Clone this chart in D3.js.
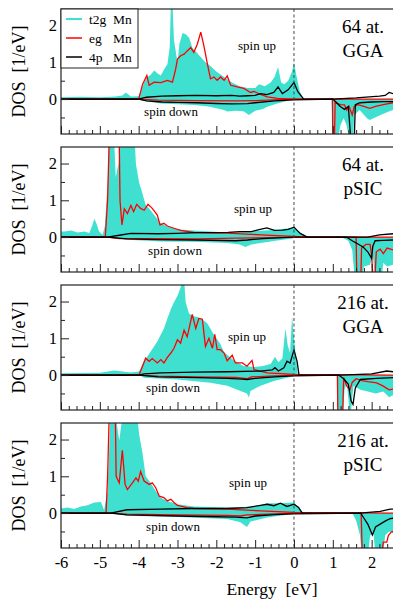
<!DOCTYPE html>
<html>
<head>
<meta charset="utf-8">
<script src="https://cdn.jsdelivr.net/npm/d3@7"></script>
<style>
body { margin: 0; background: #fff; }
svg text { font-family: "Liberation Serif", "Times New Roman", Times, serif; fill: #000; }
</style>
</head>
<body>
<div id="chart"></div>
<script>
// ---- data: [energy eV, DOS 1/eV], spin down stored negative ----
// 64 at. GGA
const p1T2gUp = [[-6,0.05],[-5.5,0.06],[-5.0,0.05],[-4.6,0.07],[-4.42,0.1],[-4.33,0.18],[-4.2,0.07],[-4.0,0.08],[-3.9,0.35],[-3.79,0.6],[-3.7,0.65],[-3.6,0.78],[-3.52,0.7],[-3.43,0.64],[-3.35,0.8],[-3.26,0.95],[-3.2,1.4],[-3.17,2.6],[-3.13,2.6],[-3.09,1.6],[-3.0,1.0],[-2.95,1.5],[-2.87,1.8],[-2.79,1.76],[-2.7,1.67],[-2.62,1.4],[-2.53,1.3],[-2.45,1.2],[-2.36,1.1],[-2.28,1.0],[-2.15,0.9],[-2.0,0.75],[-1.8,0.6],[-1.6,0.45],[-1.4,0.35],[-1.2,0.3],[-1.0,0.3],[-0.9,0.4],[-0.75,0.35],[-0.6,0.45],[-0.5,0.6],[-0.41,0.87],[-0.33,0.45],[-0.25,0.4],[-0.15,0.5],[-0.05,0.75],[0,1.0],[0.05,0.7],[0.15,0.2],[0.25,0],[2.55,0]];
const p1T2gDn = [[-6,-0.01],[-4.0,-0.01],[-3.8,-0.06],[-3.43,-0.12],[-3.0,-0.14],[-2.58,-0.16],[-2.2,-0.2],[-2.0,-0.25],[-1.8,-0.3],[-1.72,-0.34],[-1.5,-0.32],[-1.3,-0.33],[-1.16,-0.43],[-1.0,-0.32],[-0.8,-0.27],[-0.69,-0.21],[-0.43,-0.12],[-0.18,-0.05],[0,0],[0.97,0],[1.0,-1.2],[1.11,-1.2],[1.2,-0.7],[1.28,-0.52],[1.35,-0.7],[1.45,-1.2],[1.52,-1.2],[1.55,-0.43],[1.69,-0.3],[1.88,-0.52],[1.95,-0.57],[2.2,-0.45],[2.46,-0.33],[2.55,-0.3]];
const p1EgUp = [[-6,0],[-4.0,0],[-3.9,0.4],[-3.79,0.64],[-3.73,0.375],[-3.6,0.46],[-3.43,0.45],[-3.26,0.51],[-3.13,0.46],[-3.05,0.8],[-3.0,1.09],[-2.92,1.18],[-2.83,1.22],[-2.75,1.31],[-2.66,1.4],[-2.58,1.27],[-2.49,1.49],[-2.4,1.82],[-2.32,1.45],[-2.23,0.96],[-2.15,0.55],[-2.06,0.6],[-1.98,0.51],[-1.89,0.6],[-1.8,0.51],[-1.72,0.63],[-1.63,0.375],[-1.46,0.33],[-1.29,0.29],[-1.12,0.18],[-1.03,0.21],[-0.86,0.125],[-0.69,0.06],[-0.43,0.02],[0,0],[2.55,0]];
const p1EgDn = [[-6,0],[-4.0,0],[-3.5,-0.03],[-2.5,-0.04],[-1.5,-0.05],[-1.0,-0.04],[-0.5,-0.02],[0,0],[0.99,0],[1.0,-1.2],[1.04,-1.2],[1.06,-0.1],[1.2,-0.15],[1.3,-0.16],[1.36,-0.3],[1.42,-0.2],[1.5,-0.43],[1.55,-0.2],[1.65,-0.15],[1.8,-0.2],[1.95,-0.25],[2.1,-0.2],[2.3,-0.15],[2.55,-0.1]];
const p14pUp = [[-6,0],[-4.0,0],[-3.8,0.05],[-3.4,0.08],[-3.0,0.09],[-2.5,0.1],[-2.0,0.09],[-1.6,0.1],[-1.4,0.08],[-1.2,0.09],[-1.0,0.1],[-0.86,0.15],[-0.7,0.12],[-0.52,0.18],[-0.41,0.33],[-0.3,0.15],[-0.15,0.25],[0,0.45],[0.1,0.2],[0.25,0],[1.0,0],[1.6,0.03],[2.2,0.08],[2.35,0.1],[2.45,0.18],[2.55,0.15]];
const p14pDn = [[-6,0],[-4.0,0],[-3.8,-0.05],[-3.4,-0.08],[-3.0,-0.09],[-2.5,-0.1],[-2.0,-0.12],[-1.6,-0.13],[-1.2,-0.125],[-1.0,-0.1],[-0.5,-0.05],[0,-0.02],[1.0,0],[1.1,-0.1],[1.19,-0.2],[1.3,-0.28],[1.4,-0.2],[1.47,-1.2],[1.55,-1.2],[1.58,-0.15],[1.7,-0.1],[2.0,-0.08],[2.3,-0.07],[2.55,-0.07]];
// 64 at. pSIC
const p2T2gUp = [[-6,0.15],[-5.91,0.15],[-5.74,0.18],[-5.57,0.125],[-5.4,0.15],[-5.27,0.11],[-5.2,0.3],[-5.14,0.5],[-5.08,0.35],[-5.02,0.15],[-4.93,0.06],[-4.87,0.3],[-4.8,1.5],[-4.76,2.6],[-4.63,2.6],[-4.59,1.63],[-4.52,2.0],[-4.46,2.6],[-4.1,2.6],[-4.07,1.98],[-3.99,1.49],[-3.9,1.18],[-3.82,0.87],[-3.73,0.78],[-3.6,0.6],[-3.43,0.375],[-3.26,0.29],[-3.0,0.21],[-2.58,0.18],[-2.15,0.15],[-1.72,0.125],[-1.29,0.15],[-0.86,0.17],[-0.43,0.2],[0,0.26],[0.16,0.125],[0.34,0.02],[0.4,0],[2.55,0]];
const p2T2gDn = [[-6,0],[-4.8,0],[-4.3,-0.07],[-3.43,-0.12],[-2.58,-0.13],[-1.72,-0.16],[-1.4,-0.2],[-1.25,-0.27],[-1.1,-0.2],[-0.86,-0.16],[-0.43,-0.09],[0,-0.03],[0.1,0],[1.2,0],[1.4,-0.1],[1.5,-0.35],[1.57,-1.2],[1.75,-1.2],[1.8,-0.8],[1.96,-0.75],[2.03,-0.5],[2.1,-1.2],[2.25,-1.2],[2.3,-0.7],[2.4,-0.8],[2.55,-0.75]];
const p2EgUp = [[-6,0],[-4.86,0],[-4.8,1.0],[-4.76,2.6],[-4.5,2.6],[-4.48,1.0],[-4.43,0.33],[-4.37,0.77],[-4.29,0.64],[-4.2,0.86],[-4.13,0.69],[-4.05,0.89],[-3.95,0.78],[-3.86,0.73],[-3.76,0.89],[-3.65,0.78],[-3.52,0.6],[-3.45,0.33],[-3.35,0.375],[-3.26,0.3],[-3.09,0.24],[-2.92,0.18],[-2.58,0.125],[-1.72,0.11],[-0.86,0.06],[0,0.02],[0.3,0],[2.55,0]];
const p2EgDn = [[-6,0],[-4.8,0],[-4.5,-0.04],[-3.5,-0.04],[-2.5,-0.05],[-1.5,-0.03],[0,0],[1.6,0],[1.62,-1.2],[1.72,-1.2],[1.74,-0.3],[1.85,-0.2],[1.96,-0.2],[2.0,-0.5],[2.04,-1.2],[2.08,-1.2],[2.12,-0.4],[2.22,-0.33],[2.3,-0.45],[2.4,-0.3],[2.55,-0.35]];
const p24pUp = [[-6,0],[-4.8,0],[-4.5,0.05],[-4.2,0.1],[-3.5,0.09],[-3.0,0.1],[-2.5,0.12],[-2.0,0.12],[-1.7,0.13],[-1.4,0.15],[-1.1,0.15],[-0.9,0.2],[-0.7,0.25],[-0.5,0.18],[-0.3,0.19],[-0.15,0.21],[0,0.27],[0.16,0.1],[0.34,0],[1.9,0],[2.2,0.06],[2.55,0.09]];
const p24pDn = [[-6,0],[-4.8,0],[-4.3,-0.05],[-3.5,-0.07],[-2.5,-0.08],[-1.5,-0.1],[-1.2,-0.08],[-0.8,-0.04],[0,0],[1.35,0],[1.5,-0.1],[1.78,-0.27],[1.9,-0.4],[2.0,-0.58],[2.03,-0.25],[2.09,-0.1],[2.3,-0.09],[2.55,-0.08]];
// 216 at. GGA
const p3T2gUp = [[-6,0.05],[-5.0,0.06],[-4.63,0.125],[-4.2,0.07],[-3.99,0.1],[-3.86,0.375],[-3.69,0.64],[-3.52,0.91],[-3.35,1.27],[-3.26,1.54],[-3.17,1.8],[-3.09,1.98],[-3.0,2.16],[-2.92,2.38],[-2.87,2.6],[-2.83,2.6],[-2.79,1.98],[-2.7,1.67],[-2.58,1.6],[-2.4,1.55],[-2.23,1.4],[-2.06,1.1],[-1.9,0.85],[-1.8,0.62],[-1.55,0.4],[-1.3,0.25],[-1.0,0.22],[-0.8,0.25],[-0.6,0.3],[-0.49,0.5],[-0.4,0.35],[-0.3,0.45],[-0.22,1.27],[-0.16,0.8],[-0.1,0.6],[-0.05,1.6],[0,1.0],[0.05,0.5],[0.1,0],[2.55,0]];
const p3T2gDn = [[-6,0],[-3.99,0],[-3.86,-0.07],[-3.0,-0.12],[-2.15,-0.21],[-1.72,-0.29],[-1.38,-0.43],[-1.21,-0.5],[-1.16,-0.61],[-1.12,-0.43],[-0.86,-0.29],[-0.52,-0.16],[-0.18,-0.07],[0,-0.03],[0.1,0],[1.1,0],[1.12,-1.2],[1.26,-1.2],[1.3,-0.4],[1.36,-0.2],[1.45,-1.2],[1.53,-0.3],[1.71,-0.4],[1.9,-0.45],[2.1,-0.5],[2.3,-0.45],[2.45,-0.6],[2.55,-0.55]];
const p3EgUp = [[-6,0],[-3.99,0],[-3.82,0.46],[-3.73,0.375],[-3.65,0.45],[-3.52,0.33],[-3.43,0.42],[-3.35,0.33],[-3.26,0.48],[-3.17,0.6],[-3.09,0.73],[-3.0,0.96],[-2.92,0.87],[-2.83,1.22],[-2.75,1.04],[-2.62,1.65],[-2.53,1.27],[-2.45,1.54],[-2.36,1.52],[-2.28,0.78],[-2.19,1.0],[-2.1,0.73],[-2.04,1.11],[-1.98,0.69],[-1.89,0.69],[-1.8,0.6],[-1.72,0.39],[-1.59,0.54],[-1.51,0.33],[-1.33,0.33],[-1.21,0.24],[-1.08,0.4],[-1.03,0.15],[-0.69,0.06],[0,0.02],[2.55,0]];
const p3EgDn = [[-6,0],[-3.99,0],[-3.5,-0.03],[-2.5,-0.05],[-1.5,-0.06],[-1.21,-0.1],[-1.1,-0.05],[-0.5,-0.02],[0,0],[1.12,0],[1.13,-1.2],[1.25,-1.2],[1.28,-0.07],[1.36,-0.3],[1.44,-0.4],[1.5,-0.2],[1.6,-0.1],[1.75,-0.15],[1.9,-0.18],[2.13,-0.21],[2.3,-0.3],[2.45,-0.4],[2.55,-0.38]];
const p34pUp = [[-6,0],[-3.99,0],[-3.86,0.035],[-3.43,0.06],[-2.58,0.08],[-1.72,0.09],[-0.86,0.11],[-0.56,0.14],[-0.49,0.2],[-0.4,0.11],[-0.26,0.2],[-0.18,0.38],[-0.1,0.33],[0,0.68],[0.08,0.375],[0.13,0],[1.2,0],[2.0,0.03],[2.39,0.11],[2.55,0.09]];
const p34pDn = [[-6,0],[-3.99,0],[-3.5,-0.05],[-2.5,-0.07],[-1.72,-0.09],[-1.33,-0.11],[-1.21,-0.12],[-1.0,-0.09],[-0.5,-0.05],[0,-0.02],[1.15,0],[1.28,-0.1],[1.4,-0.25],[1.47,-0.7],[1.52,-0.8],[1.58,-0.35],[1.71,-0.12],[2.13,-0.09],[2.55,-0.07]];
// 216 at. pSIC
const p4T2gUp = [[-6,0.125],[-5.83,0.15],[-5.66,0.11],[-5.49,0.18],[-5.32,0.21],[-5.14,0.29],[-4.97,0.3],[-4.89,0.08],[-4.8,0.6],[-4.73,2.6],[-4.59,2.6],[-4.5,1.98],[-4.42,2.6],[-4.03,2.6],[-3.99,2.16],[-3.9,1.63],[-3.82,1.0],[-3.69,0.82],[-3.56,0.6],[-3.43,0.42],[-3.26,0.33],[-3.0,0.24],[-2.58,0.18],[-1.72,0.15],[-1.03,0.18],[-0.69,0.27],[-0.35,0.27],[0,0.29],[0.16,0.11],[0.25,0],[2.55,0]];
const p4T2gDn = [[-6,0],[-4.72,0],[-4.29,-0.07],[-3.0,-0.11],[-1.72,-0.16],[-1.38,-0.25],[-1.21,-0.38],[-1.12,-0.23],[-0.69,-0.12],[-0.18,-0.045],[0,-0.02],[0.1,0],[1.5,0],[1.6,-0.2],[1.7,-0.6],[1.75,-1.2],[1.9,-1.2],[1.96,-0.61],[2.05,-0.55],[2.1,-1.2],[2.28,-1.2],[2.35,-0.6],[2.45,-0.5],[2.55,-0.55]];
const p4EgUp = [[-6,0],[-4.84,0],[-4.8,1.0],[-4.76,2.6],[-4.6,2.6],[-4.58,1.0],[-4.5,0.82],[-4.42,1.71],[-4.35,0.78],[-4.29,0.64],[-4.16,0.82],[-4.07,0.96],[-4.01,0.87],[-3.95,1.13],[-3.86,0.87],[-3.73,0.78],[-3.65,0.82],[-3.56,0.69],[-3.47,0.46],[-3.35,0.42],[-3.26,0.33],[-3.17,0.375],[-3.09,0.29],[-3.0,0.21],[-2.75,0.15],[-2.58,0.125],[-1.72,0.11],[-0.86,0.06],[0,0.02],[2.55,0]];
const p4EgDn = [[-6,0],[-4.72,0],[-4.3,-0.03],[-3.0,-0.05],[-1.72,-0.06],[-1.38,-0.08],[-1.21,-0.05],[-0.5,-0.02],[0,0],[1.73,0],[1.76,-1.2],[2.25,-1.2],[2.3,-0.79],[2.39,-0.79],[2.43,-0.61],[2.5,-0.52],[2.55,-0.5]];
const p44pUp = [[-6,0],[-4.72,0],[-4.3,0.09],[-3.43,0.11],[-2.58,0.125],[-1.72,0.125],[-1.21,0.15],[-0.86,0.21],[-0.69,0.24],[-0.52,0.2],[-0.35,0.27],[-0.18,0.18],[0,0.24],[0.12,0.15],[0.21,0],[1.7,0],[2.22,0.045],[2.48,0.11],[2.55,0.11]];
const p44pDn = [[-6,0],[-4.72,0],[-4.3,-0.05],[-3.0,-0.08],[-2.0,-0.1],[-1.5,-0.11],[-1.21,-0.13],[-1.0,-0.08],[-0.5,-0.04],[0,-0.02],[1.72,0],[1.79,-0.12],[1.9,-0.3],[1.96,-0.45],[2.02,-0.6],[2.1,-0.38],[2.22,-0.3],[2.38,-0.2],[2.48,-0.15],[2.55,-0.14]];

const panelNames = [["64 at.", "GGA"], ["64 at.", "pSIC"], ["216 at.", "GGA"], ["216 at.", "pSIC"]];
const legendNames = ["t2g", "eg", "4p"];
const xMajorTicks = [-6, -5, -4, -3, -2, -1, 0, 1, 2];
const yMajorTicks = [0, 1, 2];
const yMinorTicks = [-0.5, 0.5, 1.5];

const panels = [
  { t2g: [p1T2gUp, p1T2gDn], eg: [p1EgUp, p1EgDn], p4: [p14pUp, p14pDn] },
  { t2g: [p2T2gUp, p2T2gDn], eg: [p2EgUp, p2EgDn], p4: [p24pUp, p24pDn] },
  { t2g: [p3T2gUp, p3T2gDn], eg: [p3EgUp, p3EgDn], p4: [p34pUp, p34pDn] },
  { t2g: [p4T2gUp, p4T2gDn], eg: [p4EgUp, p4EgDn], p4: [p44pUp, p44pDn] },
];
// spin label positions per panel (offset from panel top)
const spinUpPos = [[257, 41], [253, 66], [247, 56], [248, 64]];
const spinDnPos = [[171, 107], [175, 108], [173, 107], [173, 108]];

let width = 393;
let height = 599;
let svg = d3.select("#chart").append("svg").attr("width", width).attr("height", height);

let left = 61;
let right = 393;
let panelH = 125;
let panelTops = [9, 147, 285, 423];

let xScale = d3.scaleLinear().domain([-6, 2.55]).range([left, right]);
let xMinorTicks = d3.range(-60, 26, 2).map((d) => d / 10).filter((d) => !Number.isInteger(d));

const cyan = "#40e0d0";
const serif = '"Liberation Serif", "Times New Roman", serif';

panelTops.forEach((top, i) => {
  let yScale = d3.scaleLinear().domain([-0.95, 2.45]).range([top + panelH, top]);
  let g = svg.append("g");

  g.append("clipPath").attr("id", "clip" + i)
    .append("rect").attr("x", left).attr("y", top).attr("width", right - left).attr("height", panelH);
  let plot = g.append("g").attr("clip-path", `url(#clip${i})`);

  let area = d3.area().x((d) => xScale(d[0])).y0(yScale(0)).y1((d) => yScale(d[1]));
  let line = d3.line().x((d) => xScale(d[0])).y((d) => yScale(d[1]));

  panels[i].t2g.forEach((s) => plot.append("path").attr("d", area(s)).attr("fill", cyan));
  panels[i].eg.forEach((s) =>
    plot.append("path").attr("d", line(s)).attr("fill", "none").attr("stroke", "#ff0000").attr("stroke-width", 1.3));
  panels[i].p4.forEach((s) =>
    plot.append("path").attr("d", line(s)).attr("fill", "none").attr("stroke", "#000").attr("stroke-width", 1.3));

  // Fermi level
  g.append("line")
    .attr("x1", xScale(0)).attr("x2", xScale(0))
    .attr("y1", top).attr("y2", top + panelH)
    .attr("stroke", "#444").attr("stroke-width", 1).attr("stroke-dasharray", "3,2.5");

  // x ticks (inward)
  let xAxisMajor = d3.axisBottom(xScale).tickValues(xMajorTicks).tickSizeInner(-8).tickSizeOuter(0).tickPadding(8)
    .tickFormat(i === 3 ? (d) => String(d) : () => "");
  let xAx = g.append("g").attr("transform", `translate(0,${top + panelH})`).call(xAxisMajor);
  let xAxisMinor = d3.axisBottom(xScale).tickValues(xMinorTicks).tickSizeInner(-4).tickSizeOuter(0).tickFormat(() => "");
  let xAxm = g.append("g").attr("transform", `translate(0,${top + panelH})`).call(xAxisMinor);

  // y ticks (inward)
  let yAxisMajor = d3.axisLeft(yScale).tickValues(yMajorTicks).tickSizeInner(-8).tickSizeOuter(0).tickPadding(4)
    .tickFormat((d) => String(d));
  let yAx = g.append("g").attr("transform", `translate(${left},0)`).call(yAxisMajor);
  let yAxisMinor = d3.axisLeft(yScale).tickValues(yMinorTicks).tickSizeInner(-4).tickSizeOuter(0).tickFormat(() => "");
  let yAxm = g.append("g").attr("transform", `translate(${left},0)`).call(yAxisMinor);

  [xAx, xAxm, yAx, yAxm].forEach((a) => {
    a.attr("font-family", serif).attr("font-size", 16.5);
    a.select(".domain").remove();
    a.selectAll(".tick line").attr("stroke", "#222").attr("stroke-width", 1);
  });

  // frame
  g.append("rect")
    .attr("x", left).attr("y", top).attr("width", right - left + 5).attr("height", panelH)
    .attr("fill", "none").attr("stroke", "#222").attr("stroke-width", 1.2);

  // labels
  g.append("text").attr("x", 363).attr("y", top + 24).attr("text-anchor", "middle").attr("font-size", 19).text(panelNames[i][0]);
  g.append("text").attr("x", 363).attr("y", top + 48).attr("text-anchor", "middle").attr("font-size", 19).text(panelNames[i][1]);
  g.append("text").attr("x", spinUpPos[i][0]).attr("y", top + spinUpPos[i][1]).attr("text-anchor", "middle").attr("font-size", 13).text("spin up");
  g.append("text").attr("x", spinDnPos[i][0]).attr("y", top + spinDnPos[i][1]).attr("text-anchor", "middle").attr("font-size", 13).text("spin down");

  g.append("text")
    .attr("transform", `translate(25,${top + panelH / 2}) rotate(-90)`)
    .attr("text-anchor", "middle").attr("font-size", 18)
    .style("white-space", "pre")
    .text("DOS  [1/eV]");
});

// legend in first panel
let legend = svg.append("g");
legend.append("rect").attr("x", left).attr("y", 9).attr("width", 77).attr("height", 59)
  .attr("fill", "#fff").attr("stroke", "#222").attr("stroke-width", 1);
const legendColors = [cyan, "#ff0000", "#000"];
legendNames.forEach((name, k) => {
  let yy = 19 + k * 19;
  legend.append("line").attr("x1", 66).attr("x2", 82).attr("y1", yy).attr("y2", yy)
    .attr("stroke", legendColors[k]).attr("stroke-width", k === 0 ? 2 : 1.5);
  legend.append("text").attr("x", 89).attr("y", yy + 4.5).attr("font-size", 13.5).text(name);
  legend.append("text").attr("x", 113).attr("y", yy + 4.5).attr("font-size", 13.5).text("Mn");
});

// x axis title
svg.append("text").attr("x", 272).attr("y", 595).attr("text-anchor", "middle").attr("font-size", 17.5)
  .style("white-space", "pre").text("Energy  [eV]");
</script>
</body>
</html>
